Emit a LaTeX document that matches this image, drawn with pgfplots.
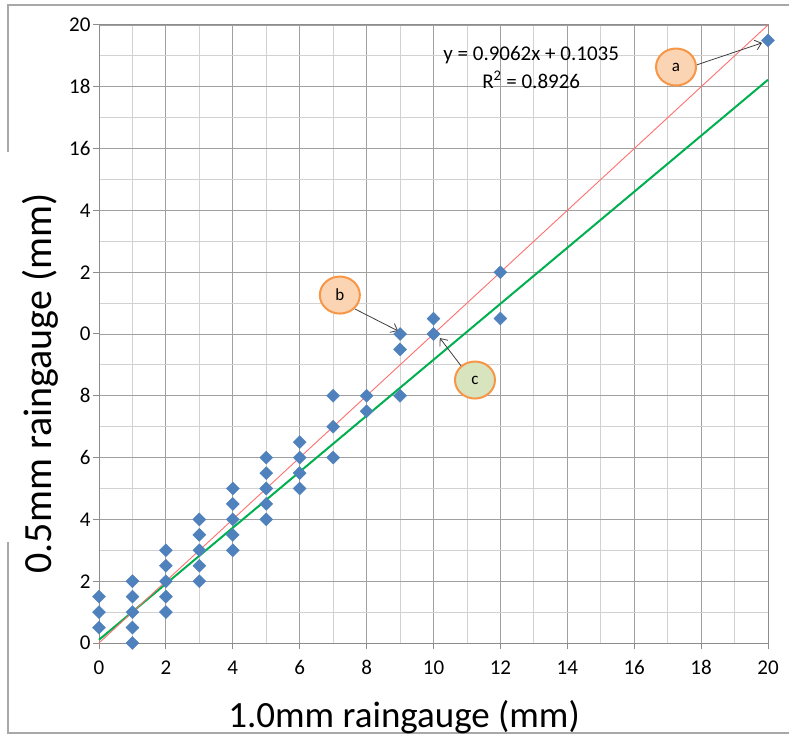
\documentclass[border=0pt]{standalone}
\usepackage{fontspec}
\setmainfont{Carlito}
\usepackage{pgfplots}
\pgfplotsset{compat=1.18}
\usetikzlibrary{arrows.meta}
\definecolor{mblue}{HTML}{4F81BD}
\definecolor{tgreen}{HTML}{00B050}
\definecolor{lred}{HTML}{FF7070}
\definecolor{majg}{HTML}{A0A0A0}
\definecolor{ming}{HTML}{D2D2D2}
\definecolor{axg}{HTML}{8C8C8C}
\definecolor{frameg}{HTML}{A8A8A8}
\definecolor{corange}{HTML}{F79646}
\definecolor{cpeach}{HTML}{FBD4B4}
\definecolor{cgreen}{HTML}{D7E4BD}
\definecolor{arrg}{HTML}{404040}
\begin{document}
\begin{tikzpicture}
\useasboundingbox (0,0) rectangle (789pt,736pt);
\fill[white] (0,0) rectangle (789pt,736pt);
\draw[frameg, line width=1.2pt] (8pt,584pt) -- (8pt,731pt) -- (789pt,731pt);
\draw[frameg, line width=1.2pt] (8pt,194pt) -- (8pt,3pt) -- (789pt,3pt);
\begin{axis}[
  at={(99pt,93pt)}, anchor=south west,
  scale only axis, width=669pt, height=618pt,
  xmin=0, xmax=20, ymin=0, ymax=20,
  clip=false,
  xtick={0,2,...,20},
  xticklabels={0,2,4,6,8,10,12,14,16,18,20},
  ytick={0,2,...,20},
  yticklabels={0,2,4,6,8,0,2,4,16,18,20},
  minor tick num=1,
  grid=both,
  major grid style={color=majg, line width=0.9pt},
  minor grid style={color=ming, line width=0.9pt},
  axis line style={color=axg, line width=1pt},
  tick style={color=axg, line width=1pt},
  major tick length=6pt, minor tick length=0pt,
  tick align=outside,
  xtick pos=lower, ytick pos=left,
  ticklabel style={font=\fontsize{21}{24}\selectfont, text=black},
  xticklabel style={yshift=-8pt},
  yticklabel style={xshift=1pt},
  xlabel={1.0mm raingauge (mm)},
  ylabel={0.5mm raingauge (mm)},
  xlabel style={at={(axis description cs:0.456,-0.136)}, anchor=base, font=\fontsize{37}{42}\selectfont},
  ylabel style={at={(axis description cs:-0.088,0.42)}, anchor=center, rotate=0, font=\fontsize{40}{44}\selectfont},
]
\addplot[only marks, mark=square*, mark size=4.6pt, mark options={rotate=45, fill=mblue, draw=mblue}] coordinates {
(0,0.5)(0,1)(0,1.5)
(1,0)(1,0.5)(1,1)(1,1.5)(1,2)
(2,1)(2,1.5)(2,2)(2,2.5)(2,3)
(3,2)(3,2.5)(3,3)(3,3.5)(3,4)
(4,3)(4,3.5)(4,4)(4,4.5)(4,5)
(5,4)(5,4.5)(5,5)(5,5.5)(5,6)
(6,5)(6,5.5)(6,6)(6,6.5)
(7,6)(7,7)(7,8)
(8,7.5)(8,8)
(9,8)(9,9.5)(9,10)
(10,10)(10,10.5)
(12,10.5)(12,12)
(20,19.5)
};
\addplot[tgreen, line width=2pt] coordinates {(0,0.1035)(20,18.2275)};
\addplot[lred, line width=0.9pt] coordinates {(0,0)(20,20)};
\node[align=center, font=\fontsize{21}{28}\selectfont] at (axis cs:12.92,18.64) {y = 0.9062x + 0.1035\\R\textsuperscript{2} = 0.8926};
\draw[arrg, line width=0.8pt, -{Straight Barb[length=6pt,width=10pt]}] (axis cs:17.87,18.71) -- (axis cs:19.82,19.42);
\draw[arrg, line width=0.8pt, -{Straight Barb[length=6pt,width=10pt]}] (axis cs:7.65,10.81) -- (axis cs:8.94,10.10);
\draw[arrg, line width=0.8pt, -{Straight Barb[length=6pt,width=10pt]}] (axis cs:10.85,8.93) -- (axis cs:10.19,9.87);
\draw[corange, fill=cpeach, line width=2pt] (axis cs:17.25,18.64) ellipse [x radius=20pt, y radius=18.5pt];
\node[font=\fontsize{17}{20}\selectfont] at (axis cs:17.25,18.64) {a};
\draw[corange, fill=cpeach, line width=2pt] (axis cs:7.20,11.26) ellipse [x radius=20pt, y radius=18.5pt];
\node[font=\fontsize{17}{20}\selectfont] at (axis cs:7.20,11.26) {b};
\draw[corange, fill=cgreen, line width=2pt] (axis cs:11.24,8.51) ellipse [x radius=20pt, y radius=18.5pt];
\node[font=\fontsize{17}{20}\selectfont] at (axis cs:11.24,8.51) {c};
\end{axis}
\end{tikzpicture}
\end{document}
